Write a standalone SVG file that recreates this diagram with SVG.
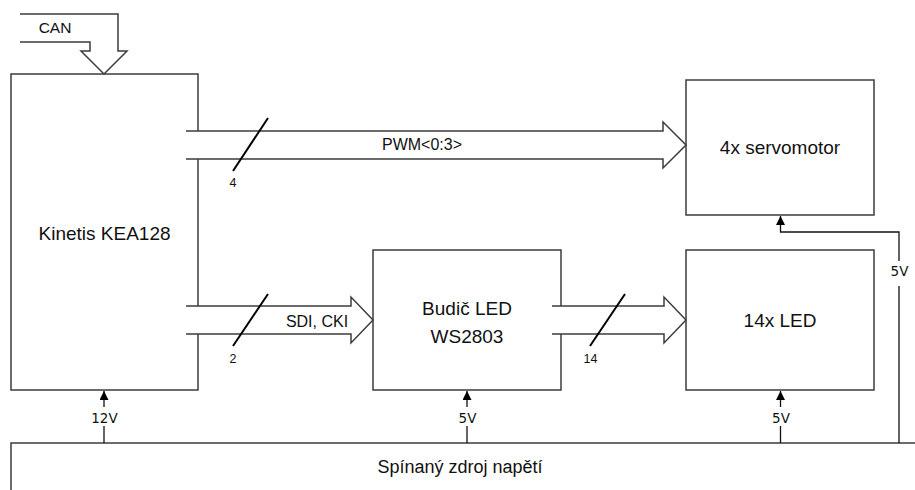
<svg xmlns="http://www.w3.org/2000/svg" width="915" height="490" viewBox="0 0 915 490">
<defs>
<style>
.box{fill:#fff;stroke:#3c3c3c;stroke-width:1.5}
.bus{fill:#fff;stroke:#3c3c3c;stroke-width:1.5}
.wire{fill:none;stroke:#111;stroke-width:1.3}
.slash{stroke:#000;stroke-width:2;fill:none}
.t{font-family:"Liberation Sans",Arial,sans-serif;fill:#111;text-anchor:middle}
.big{font-size:19px}
.mid{font-size:16px}
.sm{font-size:12.5px}
.v{font-family:"DejaVu Sans",Verdana,sans-serif;font-size:13.5px;fill:#111;text-anchor:middle}
.bg{fill:#fff;stroke:none}
</style>
<marker id="ah" viewBox="0 0 10 10" refX="10" refY="5" markerWidth="9" markerHeight="9" markerUnits="userSpaceOnUse" orient="auto">
<path d="M0,0 L10,5 L0,10 Z" fill="#000"/>
</marker>
</defs>
<rect x="0" y="0" width="915" height="490" fill="#fff"/>
<g id="kinetis">
<rect class="box" x="11" y="74" width="187" height="316"/>
<text class="t big" x="104.5" y="240">Kinetis KEA128</text>
</g>
<g id="servomotor">
<rect class="box" x="686" y="80" width="188" height="135"/>
<text class="t big" x="780" y="154">4x servomotor</text>
</g>
<g id="budic">
<rect class="box" x="373" y="250" width="188" height="140"/>
<text class="t big" x="467" y="315">Budič LED</text>
<text class="t big" x="467" y="343">WS2803</text>
</g>
<g id="led">
<rect class="box" x="686" y="250" width="188" height="140"/>
<text class="t big" x="780" y="327">14x LED</text>
</g>
<g id="zdroj">
<rect class="box" x="11" y="443" width="930" height="70"/>
<text class="t" style="font-size:18px" x="460" y="473">Spínaný zdroj napětí</text>
</g>
<g id="connectors">
<path class="bus" d="M20,14 H118 V51 H127 L104,74 L81,51 H90 V42 H20"/>
<text class="t" style="font-size:15.5px" x="55" y="33">CAN</text>
<path class="bus" d="M186,131 H663 V122 L686,145 L663,168 V159 H186"/>
<line class="slash" x1="233" y1="171" x2="268" y2="118"/>
<text class="t mid" x="422" y="150">PWM&lt;0:3&gt;</text>
<text class="t sm" x="233" y="187">4</text>
<path class="bus" d="M186,306 H351 V297 L373,320 L351,343 V334 H186"/>
<line class="slash" x1="233" y1="346" x2="268" y2="294"/>
<text class="t mid" x="317" y="327">SDI, CKI</text>
<text class="t sm" x="233" y="363">2</text>
<path class="bus" d="M552,306 H664 V297 L686,320 L664,343 V334 H552"/>
<line class="slash" x1="590" y1="346" x2="625" y2="294"/>
<text class="t sm" x="590.5" y="363">14</text>
<line class="wire" x1="104" y1="443" x2="104" y2="391" marker-end="url(#ah)"/>
<rect class="bg" x="90" y="407" width="29" height="19"/>
<text class="v" x="104.5" y="423">12V</text>
<line class="wire" x1="467" y1="443" x2="467" y2="391" marker-end="url(#ah)"/>
<rect class="bg" x="457" y="407" width="21" height="19"/>
<text class="v" x="467.5" y="423">5V</text>
<line class="wire" x1="780.5" y1="443" x2="780.5" y2="391" marker-end="url(#ah)"/>
<rect class="bg" x="770" y="407" width="21" height="19"/>
<text class="v" x="781" y="423">5V</text>
<polyline class="wire" points="899,443 899,232 780.5,232 780.5,216" marker-end="url(#ah)"/>
<rect class="bg" x="889" y="261" width="21" height="25"/>
<text class="v" x="899.5" y="276">5V</text>
</g>
</svg>
